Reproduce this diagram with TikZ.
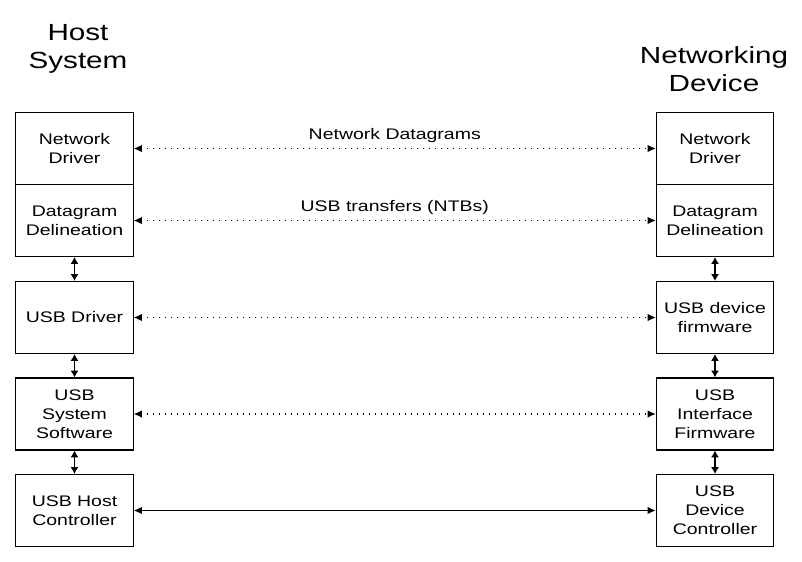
\documentclass[tikz,border=0pt]{standalone}
\usepackage{fontspec}
\setmainfont{Liberation Sans}[FakeStretch=1.27]
\usepackage{tikz}
\usetikzlibrary{arrows.meta,positioning}

\begin{document}
\begin{tikzpicture}[
    x=0.75pt, y=-0.75pt,
    every node/.style={font=\fontsize{11.5}{14.2}\selectfont, align=center},
    layer/.style={rectangle, draw, line width=0.9pt, minimum width=88pt, minimum height=54pt, inner sep=0pt},
    title/.style={font=\fontsize{17.5}{21}\selectfont},
    peer/.style={line width=0.8pt, dash pattern=on 0.8pt off 3.7pt, {Latex[length=6pt,width=5.5pt]}-{Latex[length=6pt,width=5.5pt]}},
    wire/.style={line width=0.9pt, {Latex[length=6pt,width=5.5pt]}-{Latex[length=6pt,width=5.5pt]}},
    stack/.style={line width=1.3pt, {Latex[length=5pt,width=6pt]}-{Latex[length=5pt,width=6pt]}}
]
\useasboundingbox (0,0) rectangle (802,561);

% titles
\node[title] (hosttitle) at (78,49) {Host\\System};
\node[title] (devtitle) at (714,69) {Networking\\Device};

% host side
\node[layer] (hostnet) at (74.5,148.5) {Network\\Driver};
\node[layer] (hostdg) at (74.5,220.5) {Datagram\\Delineation};
\node[layer] (hostusb) at (74.5,317.5) {USB Driver};
\node[layer] (hostsys) at (74.5,414) {USB\\System\\Software};
\node[layer] (hostctl) at (74.5,510.5) {USB Host\\Controller};

% device side
\node[layer] (devnet) at (715,148.5) {Network\\Driver};
\node[layer] (devdg) at (715,220.5) {Datagram\\Delineation};
\node[layer] (devfw) at (715,317.5) {USB device\\firmware};
\node[layer] (devif) at (715,414) {USB\\Interface\\Firmware};
\node[layer] (devctl) at (715,510.5) {USB\\Device\\Controller};

% layer to layer
\draw[stack] (hostdg) -- (hostusb);
\draw[stack] (hostusb) -- (hostsys);
\draw[stack] (hostsys) -- (hostctl);
\draw[stack] (devdg) -- (devfw);
\draw[stack] (devfw) -- (devif);
\draw[stack] (devif) -- (devctl);

% peer to peer
\draw[peer] (hostnet) -- node[above=1pt] {Network Datagrams} (devnet);
\draw[peer] (hostdg) -- node[above=1pt] {USB transfers (NTBs)} (devdg);
\draw[peer] (hostusb) -- (devfw);
\draw[peer] (hostsys) -- (devif);
\draw[wire] (hostctl) -- (devctl);

\end{tikzpicture}
\end{document}
